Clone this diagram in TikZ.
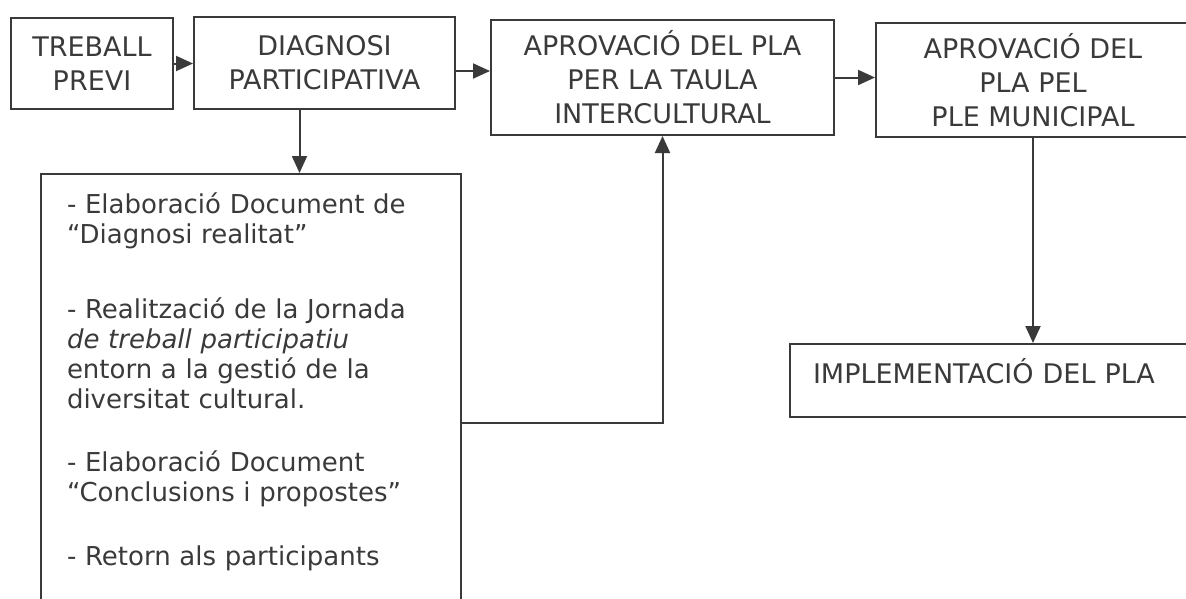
\documentclass[tikz,border=0pt]{standalone}
\usepackage{fontspec}
\setmainfont{DejaVu Sans}
\usetikzlibrary{arrows.meta}
\definecolor{tinta}{HTML}{3A3A3A}

\begin{document}
\begin{tikzpicture}[x=1pt,y=-1pt,
  caixa/.style={draw=tinta,line width=2pt,anchor=north west,align=center,
    text=tinta,inner sep=0pt,font=\fontsize{27}{34}\selectfont},
  fletxa/.style={draw=tinta,line width=2pt,-{Triangle[length=17pt,width=15pt]}}]

\useasboundingbox (0,0) rectangle (1186,598);

%Fila superior
\node[caixa,minimum width=162pt,minimum height=91pt] (previ) at (10,17) {TREBALL\\PREVI};
\node[caixa,minimum width=261pt,minimum height=92pt] (diag) at (193,16) {DIAGNOSI\\PARTICIPATIVA};
\node[caixa,minimum width=343pt,minimum height=115pt] (taula) at (490,19) {APROVACIÓ DEL PLA\\PER LA TAULA\\INTERCULTURAL};
\node[caixa,minimum width=314pt,minimum height=114pt] (ple) at (875,22) {APROVACIÓ DEL\\PLA PEL\\PLE MUNICIPAL};

%Tasques de la diagnosi
\node[caixa,align=left,text width=368pt,inner xsep=26pt,inner ysep=19pt,text depth=402pt,
  font=\fontsize{26}{30}\selectfont] (tasques) at (40,173)
  {- Elaboració Document de\\“Diagnosi realitat”\\[45pt]
   - Realització de la Jornada\\\textit{de treball participatiu}\\entorn a la gestió de la\\diversitat cultural.\\[33pt]
   - Elaboració Document\\“Conclusions i propostes”\\[34pt]
   - Retorn als participants};

\node[caixa,align=left,text width=364pt,inner xsep=23pt,text height=39pt,text depth=34pt] (impl) at (789,343) {IMPLEMENTACIÓ DEL PLA};

%Fletxes
\draw[fletxa] (previ.east) -- (previ.east -| diag.west);
\draw[fletxa] ([yshift=-8pt]diag.east) -- ([yshift=-8pt]diag.east -| taula.west);
\draw[fletxa] (taula.east) -- (taula.east -| ple.west);
\draw[fletxa] ([xshift=-25pt]diag.south) -- ([xshift=-25pt]diag.south |- tasques.north);
\draw[fletxa] (tasques.east |- 0,423) -| (taula.south);
\draw[fletxa] (ple.south) -- (ple.south |- impl.north);

\end{tikzpicture}
\end{document}
